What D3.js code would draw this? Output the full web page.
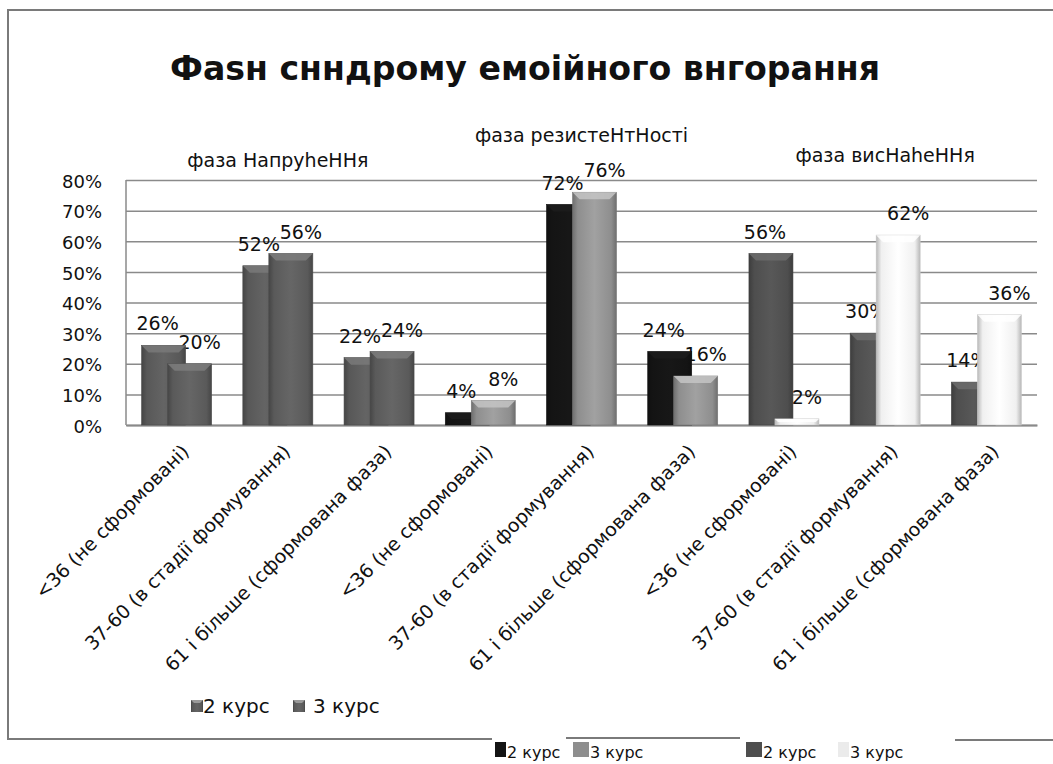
<!DOCTYPE html>
<html>
<head>
<meta charset="utf-8">
<title>фази синдрому</title>
<script src="https://cdn.jsdelivr.net/npm/d3@7"></script>
<style>
  body { margin: 0; background: #fff; }
  svg text { font-family: "DejaVu Sans", sans-serif; fill: #111; }
</style>
</head>
<body>
<div id="container"></div>
<script>
  // data
  var title = "Фasн снндрому емоійного внгорання";
  var categories = ["<36 (не сформовані)", "37-60 (в стадії формування)", "61 і більше (сформована фаза)"];
  var phases = ["фаза НапруheННя", "фаза резистеНтНості", "фаза висНаheННя"];
  var series = ["2 курс", "3 курс"];
  var kurs2 = [26, 52, 22, 4, 72, 24, 56, 30, 14];
  var kurs3 = [20, 56, 24, 8, 76, 16, 2, 62, 36];
  var yTicks = [0, 10, 20, 30, 40, 50, 60, 70, 80];

  var phaseColors = [["#585858", "#5a5a5a"], ["#141414", "#8e8e8e"], ["#4e4e4e", "#f0f0f0"]];
  var phaseLabelY = [167, 142, 162];

  var W = 1053, H = 764;
  var plot = {left: 126, right: 1037, top: 180, bottom: 425};

  var svg = d3.select("#container").append("svg")
      .attr("width", W)
      .attr("height", H);
  var defs = svg.append("defs");

  // one category per (phase, level)
  var keys = [];
  phases.forEach(function(p, i) {
    categories.forEach(function(c, j) { keys.push(i * 3 + j); });
  });
  var rows = keys.map(function(k) {
    return {k: k, phase: Math.floor(k / 3), cat: categories[k % 3], v: [kurs2[k], kurs3[k]]};
  });

  var x = d3.scaleBand().domain(keys).range([plot.left, plot.right]);
  var xs = d3.scalePoint().domain([0, 1]).range([-13, 13]);
  var y = d3.scaleLinear().domain([0, 80]).range([plot.bottom, plot.top]);
  var barW = 44;

  // frame
  var frame = svg.append("g").attr("stroke", "#7a7a7a").attr("stroke-width", 2).attr("fill", "none");
  frame.append("path").attr("d", "M8,740V10H1053");
  frame.append("path").attr("d", "M8,739H492");
  frame.append("path").attr("d", "M566,738H740");
  frame.append("path").attr("d", "M955,740H1053");

  // title
  svg.append("text")
    .attr("x", 525).attr("y", 80)
    .attr("text-anchor", "middle")
    .attr("textLength", 710).attr("lengthAdjust", "spacingAndGlyphs")
    .style("font-size", "34px").style("font-weight", "bold")
    .text(title);

  // gridlines
  var grid = svg.append("g")
    .attr("transform", "translate(" + plot.left + ",0)")
    .call(d3.axisLeft(y).tickValues(yTicks).tickSize(-(plot.right - plot.left)).tickFormat(""));
  grid.select(".domain").remove();
  grid.selectAll(".tick line").attr("stroke", "#8a8a8a").attr("stroke-width", 1.5);

  svg.append("line")
    .attr("x1", plot.left).attr("x2", plot.left)
    .attr("y1", plot.top).attr("y2", plot.bottom)
    .attr("stroke", "#8a8a8a").attr("stroke-width", 1.5);

  // y axis labels
  var yAx = svg.append("g")
    .attr("transform", "translate(" + plot.left + ",0)")
    .call(d3.axisLeft(y).tickValues(yTicks).tickSize(0).tickPadding(24).tickFormat(function(d) { return d + "%"; }));
  yAx.select(".domain").remove();
  yAx.selectAll("text").style("font-size", "18px").attr("fill", "#111").attr("dy", "0.4em");

  // x axis
  var xAx = svg.append("g")
    .attr("transform", "translate(0," + plot.bottom + ")")
    .call(d3.axisBottom(x).tickSize(0).tickFormat(function(k) { return categories[k % 3]; }));
  xAx.select(".domain").attr("stroke", "#8a8a8a").attr("stroke-width", 2);
  xAx.selectAll("text")
    .style("font-size", "19px")
    .attr("fill", "#1a1a1a")
    .attr("text-anchor", "end")
    .attr("x", 0).attr("y", 0).attr("dy", "0.35em")
    .attr("transform", "translate(9,23) rotate(-45)");

  // phase labels
  svg.selectAll(".phase").data(phases).enter().append("text")
    .attr("class", "phase")
    .attr("x", function(d, i) { return x(i * 3 + 1) + x.bandwidth() / 2; })
    .attr("y", function(d, i) { return phaseLabelY[i]; })
    .attr("text-anchor", "middle")
    .style("font-size", "19px")
    .text(function(d) { return d; });

  // gradients for bevelled bars
  function gradId(c) { return "g" + c.replace("#", ""); }
  var allColors = d3.merge(phaseColors);
  d3.group(allColors, function(c) { return c; }).forEach(function(v, c) {
    var dark = c === "#f0f0f0" ? "#b8b8b8" : d3.color(c).darker(0.7);
    var lite = d3.color(c).brighter(c === "#f0f0f0" ? 0.3 : 0.35);
    var g = defs.append("linearGradient").attr("id", gradId(c)).attr("x1", 0).attr("x2", 1).attr("y1", 0).attr("y2", 0);
    g.append("stop").attr("offset", 0).attr("stop-color", dark);
    g.append("stop").attr("offset", 0.12).attr("stop-color", c);
    g.append("stop").attr("offset", 0.5).attr("stop-color", lite);
    g.append("stop").attr("offset", 0.88).attr("stop-color", c);
    g.append("stop").attr("offset", 1).attr("stop-color", dark);
  });

  // value labels (drawn under the bars, like the original)
  var labels = svg.append("g");
  rows.forEach(function(r) {
    r.v.forEach(function(v, s) {
      labels.append("text")
        .attr("x", x(r.k) + x.bandwidth() / 2 + xs(s) + (s === 0 ? -6 : 10))
        .attr("y", y(v) - 15)
        .attr("text-anchor", "middle")
        .style("font-size", "19px")
        .text(v + "%");
    });
  });

  // bars
  var bars = svg.append("g");
  rows.forEach(function(r) {
    r.v.forEach(function(v, s) {
      var c = phaseColors[r.phase][s];
      var bx = x(r.k) + x.bandwidth() / 2 + xs(s) - barW / 2;
      var by = y(v), bh = y(0) - y(v);
      var g = bars.append("g");
      g.append("rect")
        .attr("x", bx).attr("y", by)
        .attr("width", barW).attr("height", bh)
        .attr("fill", "url(#" + gradId(c) + ")")
        .attr("stroke", c === "#f0f0f0" ? "#c8c8c8" : d3.color(c).darker(0.5))
        .attr("stroke-width", 0.6);
      var b = Math.min(7, bh / 2);
      var top = c === "#f0f0f0" ? "#ffffff" : d3.color(c).brighter(0.9);
      g.append("path")
        .attr("d", "M" + bx + "," + by + "H" + (bx + barW) + "L" + (bx + barW - b) + "," + (by + b) + "H" + (bx + b) + "Z")
        .attr("fill", top).attr("opacity", 0.85);
    });
  });

  // legend inside the frame
  var leg = svg.append("g");
  [[191, 203], [293, 313]].forEach(function(p, i) {
    leg.append("rect").attr("x", p[0]).attr("y", 700).attr("width", 12).attr("height", 12)
      .attr("fill", "url(#" + gradId(phaseColors[0][i]) + ")");
    leg.append("path").attr("d", "M" + p[0] + ",700h12l-3,3h-6z").attr("fill", "#9a9a9a");
    leg.append("text").attr("x", p[1]).attr("y", 713).style("font-size", "20px").text(series[i]);
  });

  // legends of the other two phases, below the frame
  var legB = svg.append("g");
  var legPos = [[[495, 507], [573, 590]], [[746, 763], [838, 850]]];
  legPos.forEach(function(pp, i) {
    pp.forEach(function(p, s) {
      legB.append("rect").attr("x", p[0]).attr("y", 742).attr("width", p[1] - p[0] - 1).attr("height", 15)
        .attr("fill", phaseColors[i + 1][s] === "#f0f0f0" ? "#ebebeb" : phaseColors[i + 1][s]);
      legB.append("text").attr("x", p[1]).attr("y", 758).style("font-size", "16px").attr("fill", "#222")
        .text(series[s]);
    });
  });
</script>
</body>
</html>
